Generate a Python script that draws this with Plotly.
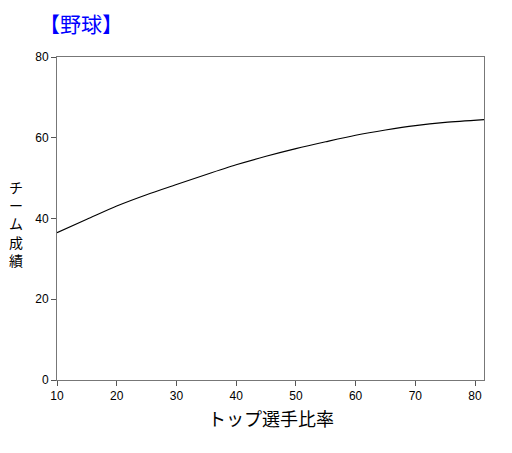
import plotly.graph_objects as go

x_vals = [10, 15, 20, 25, 30, 35, 40, 45, 50, 55, 60, 65, 70, 75, 81.5]
y_vals = [36.5, 39.8, 43.1, 45.9, 48.4, 50.9, 53.3, 55.4, 57.3, 59.0, 60.6, 61.9, 63.0, 63.8, 64.5]
x_ticks = [10, 20, 30, 40, 50, 60, 70, 80]
y_ticks = [0, 20, 40, 60, 80]
title_text = "【野球】"
x_title = "トップ選手比率"
y_title = "チーム成績"

JP = "Noto Sans CJK JP"
fig = go.Figure()
fig.add_trace(go.Scatter(x=x_vals, y=y_vals, mode="lines",
                         line=dict(color="black", width=1.1, shape="spline", smoothing=0.8),
                         showlegend=False, hoverinfo="skip"))

axis_common = dict(showgrid=False, zeroline=False, showline=True, linecolor="#777777",
                   linewidth=1, mirror=True, ticks="outside", ticklen=5, tickcolor="#555555",
                   tickfont=dict(family="Liberation Sans, Arial", size=12, color="black"))
fig.update_xaxes(range=[10, 81.5], tickvals=x_ticks, **axis_common)
fig.update_yaxes(range=[0, 80], tickvals=y_ticks, **axis_common)

annotations = [
    dict(text=title_text, xref="paper", yref="paper", x=-0.047, y=1.105, xanchor="left",
         yanchor="middle", showarrow=False, font=dict(family=JP, size=21, color="#0000FF")),
    dict(text=x_title, xref="paper", yref="paper", x=0.5, y=-0.118, xanchor="center",
         yanchor="middle", showarrow=False, font=dict(family=JP, size=18, color="black")),
    dict(text="<br>".join(list(y_title)), xref="paper", yref="paper", x=-0.096, y=0.485,
         xanchor="center", yanchor="middle", showarrow=False,
         font=dict(family=JP, size=14, color="black")),
]

fig.update_layout(width=504, height=445, margin=dict(l=49, r=28, t=49, b=73),
                  plot_bgcolor="white", paper_bgcolor="white", annotations=annotations)
fig.write_html("out.html")
